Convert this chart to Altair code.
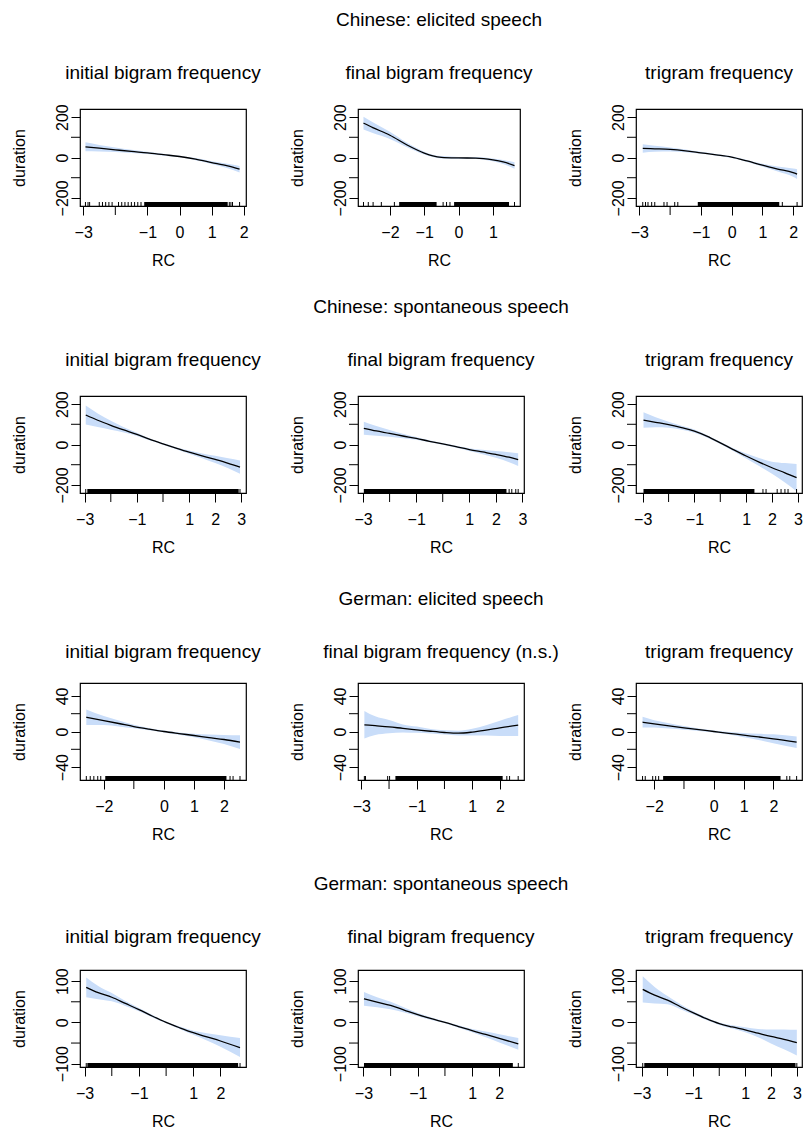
import altair as alt
import pandas as pd

FONT = "Liberation Sans"
BAND = "#c9ddf9"
W = 166
H = 97
TICK = 9

row_titles = ["Chinese: elicited speech", "Chinese: spontaneous speech",
              "German: elicited speech", "German: spontaneous speech"]
panel_titles = [
    ["initial bigram frequency", "final bigram frequency", "trigram frequency"],
    ["initial bigram frequency", "final bigram frequency", "trigram frequency"],
    ["initial bigram frequency", "final bigram frequency (n.s.)", "trigram frequency"],
    ["initial bigram frequency", "final bigram frequency", "trigram frequency"],
]

# y axis per row: labelled ticks and unlabelled ticks
y_domains = [[-240, 240], [-240, 240], [-54.5, 54.5], [-108, 127]]
y_labels = [[-200, 0, 200], [-200, 0, 200], [-40, 0, 40], [-100, 0, 100]]
y_minor = [[-100, 100], [-100, 100], [-20, 20], [-50, 50]]

# ---- Chinese elicited ----
p1_x = [-2.93, -2.5, -2.0, -1.5, -1.0, -0.5, 0.0, 0.5, 1.0, 1.5, 1.87]
p1_fit = [53, 46, 38, 30, 23, 14, 5, -8, -25, -42, -58]
p1_lo = [31, 30, 27, 22, 17, 9, 1, -13, -32, -53, -74]
p1_hi = [75, 62, 49, 38, 29, 19, 9, -3, -18, -31, -42]

p2_x = [-2.77, -2.5, -2.0, -1.5, -1.0, -0.75, -0.5, 0.0, 0.5, 1.0, 1.3, 1.63]
p2_fit = [170, 148, 110, 62, 22, 8, 1, -2, -3, -12, -22, -40]
p2_lo = [138, 121, 92, 51, 15, 2, -5, -7, -8, -19, -32, -56]
p2_hi = [202, 175, 128, 73, 29, 14, 7, 3, 2, -5, -12, -24]

p3_x = [-2.89, -2.5, -2.0, -1.5, -1.0, -0.5, 0.0, 0.5, 1.0, 1.5, 2.0, 2.13]
p3_fit = [45, 43, 40, 33, 23, 13, 2, -17, -38, -57, -75, -82]
p3_lo = [24, 28, 30, 26, 18, 9, -2, -22, -45, -69, -95, -106]
p3_hi = [66, 58, 50, 40, 28, 17, 6, -12, -31, -45, -55, -58]

# ---- Chinese spontaneous ----
p4_x = [-2.96, -2.5, -2.0, -1.5, -1.0, -0.5, 0.0, 0.5, 1.0, 1.5, 2.0, 2.5, 2.95]
p4_fit = [146, 120, 95, 72, 50, 25, 3, -18, -38, -56, -74, -93, -112]
p4_lo = [99, 86, 73, 59, 42, 20, -1, -23, -46, -68, -92, -118, -145]
p4_hi = [193, 154, 117, 85, 58, 30, 7, -13, -30, -44, -56, -68, -79]

p5_x = [-2.97, -2.5, -2.0, -1.5, -1.0, -0.5, 0.0, 0.5, 1.0, 1.5, 2.0, 2.5, 2.84]
p5_fit = [80, 67, 55, 42, 30, 16, 3, -11, -25, -37, -49, -63, -75]
p5_lo = [48, 43, 38, 31, 23, 11, -1, -16, -32, -48, -66, -88, -107]
p5_hi = [112, 91, 72, 53, 37, 21, 7, -6, -18, -26, -32, -38, -43]

p6_x = [-2.97, -2.5, -2.0, -1.5, -1.0, -0.5, 0.0, 0.5, 1.0, 1.5, 2.0, 2.5, 2.95]
p6_fit = [121, 110, 98, 83, 66, 40, 8, -25, -57, -87, -115, -140, -164]
p6_lo = [83, 85, 83, 73, 58, 34, 3, -32, -69, -107, -145, -188, -231]
p6_hi = [159, 135, 113, 93, 74, 46, 13, -18, -45, -67, -85, -92, -97]

# ---- German elicited ----
p7_x = [-2.58, -2.0, -1.5, -1.0, -0.5, 0.0, 0.5, 1.0, 1.5, 2.0, 2.53]
p7_fit = [16, 12.3, 9, 5.6, 2.7, 0, -2.3, -4.5, -6.8, -9, -12]
p7_lo = [7.4, 7.3, 5.7, 3.6, 1.4, -1, -3.6, -6.5, -10.1, -14, -19.7]
p7_hi = [24.6, 17.3, 12.3, 7.6, 4.0, 1, -1.0, -2.5, -3.5, -4, -4.3]

p8_x = [-2.89, -2.5, -2.0, -1.5, -1.0, -0.5, 0.0, 0.5, 1.0, 1.5, 2.0, 2.66]
p8_fit = [7.5, 6.5, 5.2, 3.5, 1.9, 0.3, -1.1, -1.9, -0.7, 1.5, 4.1, 7.1]
p8_lo = [-8, -4, -2, -1, -1.5, -2.2, -3.5, -4.5, -4.5, -4.5, -5, -5]
p8_hi = [23, 17, 13, 8, 5.5, 2.8, 1.3, 0.8, 3, 7, 12, 18.5]

p9_x = [-2.39, -2.0, -1.5, -1.0, -0.5, 0.0, 0.5, 1.0, 1.5, 2.0, 2.78]
p9_fit = [10.5, 8.6, 6.3, 4.1, 2, 0, -2, -4.1, -6.1, -8.2, -12]
p9_lo = [4.5, 4.6, 3.3, 2.1, 0.7, -1, -3.5, -6.6, -9.6, -13.2, -18.5]
p9_hi = [16.5, 12.6, 9.3, 6.1, 3.3, 1, -0.5, -1.6, -2.6, -3.2, -5.5]

# ---- German spontaneous ----
p10_x = [-2.94, -2.5, -2.0, -1.5, -1.0, -0.5, 0.0, 0.5, 1.0, 1.5, 2.0, 2.72]
p10_fit = [85, 72, 61, 46, 31, 15, 0, -13, -25, -35, -45, -61]
p10_lo = [61, 56, 51, 40, 27, 12, -2, -16, -30, -44, -59, -84]
p10_hi = [109, 88, 71, 52, 35, 18, 2, -10, -20, -26, -31, -38]

p11_x = [-2.98, -2.5, -2.0, -1.5, -1.0, -0.5, 0.0, 0.5, 1.0, 1.5, 2.0, 2.7]
p11_fit = [57, 49, 41, 30, 19, 9, 0, -10, -20, -29, -38.5, -52]
p11_lo = [40.5, 37, 32, 24, 15, 6, -2, -13, -24, -36, -48.5, -66]
p11_hi = [73.5, 61, 50, 36, 23, 12, 2, -7, -16, -22, -28.5, -38]

p12_x = [-2.96, -2.5, -2.0, -1.5, -1.0, -0.5, 0.0, 0.5, 1.0, 1.5, 2.0, 2.5, 3.0]
p12_fit = [80, 66, 54, 38, 23, 9, -3, -11, -18, -26, -34, -41, -49]
p12_lo = [48, 46, 44, 32, 19, 6, -6, -15, -24, -36, -51, -65, -80]
p12_hi = [112, 86, 64, 44, 27, 12, 0, -7, -12, -16, -17, -17, -18]

# x axes: labelled ticks and unlabelled ticks
x_domains = [[-3.1, 2.07], [-2.93, 1.79], [-3.11, 2.29],
             [-3.18, 3.18], [-3.19, 3.06], [-3.26, 3.16],
             [-2.79, 2.73], [-3.12, 2.87], [-2.61, 2.96],
             [-3.17, 2.94], [-3.2, 2.91], [-3.22, 3.2]]
x_labels = [[-3, -1, 0, 1, 2], [-2, -1, 0, 1], [-3, -1, 0, 1, 2],
            [-3, -1, 1, 2, 3], [-3, -1, 1, 2, 3], [-3, -1, 1, 2, 3],
            [-2, 0, 1, 2], [-3, -1, 1, 2], [-2, 0, 1, 2],
            [-3, -1, 1, 2], [-3, -1, 1, 2], [-3, -1, 1, 2, 3]]
x_minor = [[-2], [], [-2],
           [-2, 0], [-2, 0], [-2, 0],
           [-1], [-2, 0], [-1],
           [-2, 0], [-2, 0], [-2, 0]]

# rug: isolated observations and densely covered stretches
rug_single = [
    [-2.93, -2.85, -2.8, -2.5, -2.4, -2.3, -2.2, -2.1, -1.9, -1.8, -1.7, -1.6, -1.5, -1.4, -1.3, -1.2, 1.55, 1.6, 1.65, 1.87],
    [-2.77, -2.63, -2.49, -2.25, -1.87, -0.45, -0.35, -0.25, 1.63],
    [-2.89, -2.8, -2.72, -2.6, -2.5, -2.2, -2.1, -1.85, -1.75, 1.65, 2.13],
    [-2.96, 2.95],
    [2.5, 2.6, 2.75, 2.84],
    [1.65, 1.77, 2.2, 2.35, 2.5, 2.62, 2.95],
    [-2.58, -2.45, -2.33, -2.2, -2.1, 2.2, 2.3, 2.53],
    [-2.89, -2.85, -2.05, -1.98, 2.25, 2.35, 2.66],
    [-2.39, -2.3, -2.05, -1.95, -1.85, 2.45, 2.55, 2.78],
    [-2.94, 2.72],
    [2.7],
    [-2.96, 3.0],
]
rug_dense = [
    [[-1.1, 1.5]],
    [[-1.73, -0.64], [-0.13, 1.47]],
    [[-1.1, 1.55]],
    [[-2.9, 2.9]],
    [[-2.97, 2.4]],
    [[-2.97, 1.32]],
    [[-1.95, 2.08]],
    [[-1.77, 2.1]],
    [[-1.7, 2.24]],
    [[-2.9, 2.65]],
    [[-2.98, 2.5]],
    [[-2.9, 2.95]],
]

curves = [
    (p1_x, p1_fit, p1_lo, p1_hi), (p2_x, p2_fit, p2_lo, p2_hi), (p3_x, p3_fit, p3_lo, p3_hi),
    (p4_x, p4_fit, p4_lo, p4_hi), (p5_x, p5_fit, p5_lo, p5_hi), (p6_x, p6_fit, p6_lo, p6_hi),
    (p7_x, p7_fit, p7_lo, p7_hi), (p8_x, p8_fit, p8_lo, p8_hi), (p9_x, p9_fit, p9_lo, p9_hi),
    (p10_x, p10_fit, p10_lo, p10_hi), (p11_x, p11_fit, p11_lo, p11_hi), (p12_x, p12_fit, p12_lo, p12_hi),
]

panel_widths = [W, 162, W, W, W, W, W, W, W, W, W, W]
ROW_GAP = 34

MINUS = "replace(datum.label, '-', '\u2212')"


def make_panel(r, c):
    i = r * 3 + c
    xs, fit, lo, hi = curves[i]
    df = pd.DataFrame({"x": xs, "fit": fit, "lo": lo, "hi": hi})
    xscale = alt.Scale(domain=x_domains[i], nice=False, zero=False)
    yscale = alt.Scale(domain=y_domains[r], nice=False, zero=False)
    xaxis = alt.Axis(values=x_labels[i], labelExpr=MINUS, title="RC",
                     labelPadding=9, titlePadding=12, labelOverlap=False, labelFlush=False)
    yaxis = alt.Axis(values=y_labels[r], labelExpr=MINUS, title="duration",
                     labelAngle=270, labelAlign="center", labelBaseline="alphabetic",
                     labelPadding=4, titlePadding=27, labelOverlap=False, labelFlush=False)
    band = alt.Chart(df).mark_area(color=BAND, opacity=1, interpolate="monotone").encode(
        x=alt.X("x:Q", scale=xscale, axis=xaxis),
        y=alt.Y("lo:Q", scale=yscale, axis=yaxis),
        y2="hi:Q",
    )
    line = alt.Chart(df).mark_line(color="black", strokeWidth=1.3, interpolate="monotone").encode(
        x="x:Q", y="fit:Q"
    )
    single = alt.Chart(pd.DataFrame({"x": rug_single[i]})).mark_rule(color="black", strokeWidth=1).encode(
        x="x:Q", y=alt.value(H - 4), y2=alt.value(H)
    )
    dense_df = pd.DataFrame({"x1": [d[0] for d in rug_dense[i]], "x2": [d[1] for d in rug_dense[i]]})
    dense = alt.Chart(dense_df).mark_rect(color="black").encode(
        x="x1:Q", x2="x2:Q", y=alt.value(H - 4), y2=alt.value(H)
    )
    layers = [band, line, dense, single]
    if x_minor[i]:
        layers.append(
            alt.Chart(pd.DataFrame({"x": x_minor[i]})).mark_rule(color="black", strokeWidth=1).encode(
                x="x:Q", y=alt.value(H), y2=alt.value(H + TICK)
            )
        )
    layers.append(
        alt.Chart(pd.DataFrame({"y": y_minor[r]})).mark_rule(color="black", strokeWidth=1).encode(
            y="y:Q", x=alt.value(0), x2=alt.value(-TICK)
        )
    )
    head = row_titles[r] if c == 1 else " "
    return alt.layer(*layers).properties(
        width=panel_widths[i], height=H,
        title=alt.TitleParams(head, subtitle=panel_titles[r][c],
                              fontSize=19, font=FONT, fontWeight="normal", color="black",
                              subtitleFontSize=19, subtitleFont=FONT, subtitleColor="black",
                              subtitleFontWeight="normal", subtitlePadding=ROW_GAP,
                              offset=21, anchor="middle", frame="group"),
    )


panels = [make_panel(r, c) for r in range(4) for c in range(3)]

chart = alt.concat(*panels, columns=3, spacing={"row": 190, "column": 112}, bounds="flush").properties(
    padding={"left": 2, "top": 2, "right": 0, "bottom": 0}
).configure_view(stroke="black", strokeWidth=1.2).configure_axis(
    domain=False, grid=False, tickColor="black", tickSize=TICK, tickWidth=1,
    labelFont=FONT, labelFontSize=16, labelColor="black",
    titleFont=FONT, titleFontSize=16, titleFontWeight="normal", titleColor="black",
    labelOverlap=False,
)

chart.save("out.html", embed_options={"renderer": "svg", "actions": False})
